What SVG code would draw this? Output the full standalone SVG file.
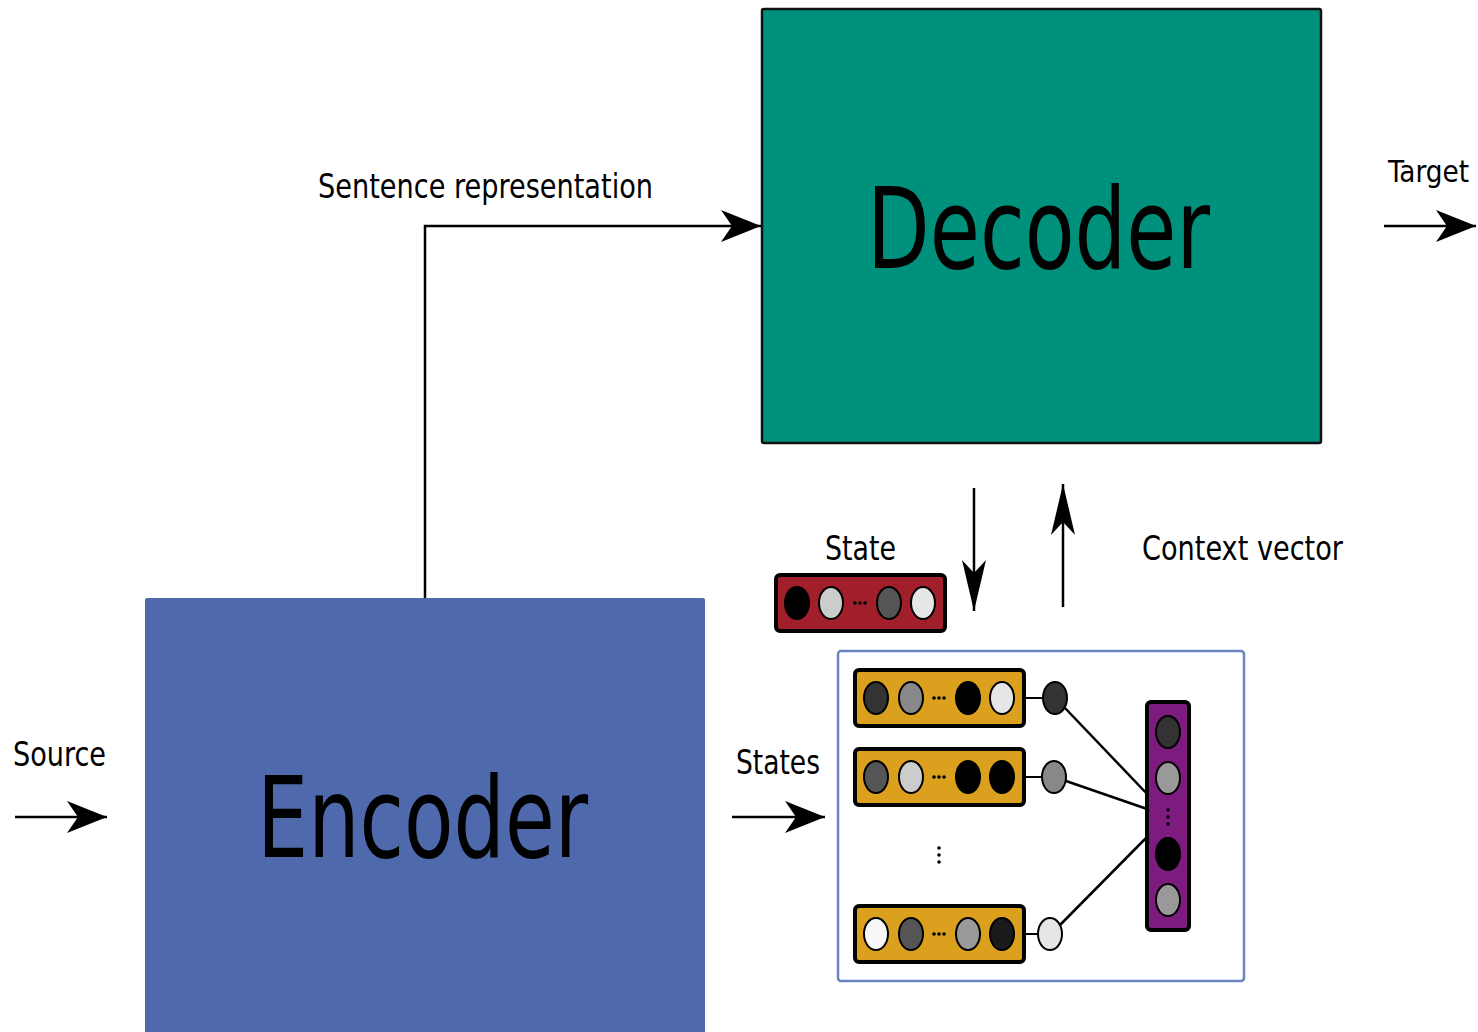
<svg xmlns="http://www.w3.org/2000/svg" width="1478" height="1032" viewBox="0 0 1478 1032">
<defs>
<style>
.lbl{font-family:"DejaVu Sans Condensed","DejaVu Sans",sans-serif;font-size:34px;fill:#000}
.big{font-family:"DejaVu Sans Condensed","DejaVu Sans",sans-serif;font-size:112px;fill:#000}
.conn{stroke:#000;stroke-width:2.5;fill:none}
.vec{stroke:#000;stroke-width:4}
.c{stroke:#000;stroke-width:2}
.dots{fill:#000}
</style>
<marker id="ah" markerUnits="userSpaceOnUse" viewBox="-42 -17 44 34" refX="0" refY="0" markerWidth="44" markerHeight="34" orient="auto">
<path d="M0,0 L-40,-16 L-29,0 L-40,16 Z" fill="#000"/>
</marker>
<marker id="ahs" markerUnits="userSpaceOnUse" viewBox="-54 -13 56 26" refX="0" refY="0" markerWidth="56" markerHeight="26" orient="auto">
<path d="M0,0 L-51,-12 L-38,0 L-51,12 Z" fill="#000"/>
</marker>
</defs>
<rect width="1478" height="1032" fill="#fff"/>

<g id="decoder">
<rect x="762" y="9" width="559" height="434" rx="2" fill="#00917C" stroke="#111" stroke-width="2.5"/>
<text class="big" x="867" y="268" textLength="343" lengthAdjust="spacingAndGlyphs">Decoder</text>
</g>

<g id="encoder">
<rect x="145" y="598" width="560" height="440" rx="2" fill="#4E6AAD"/>
<text class="big" x="257" y="857" textLength="331" lengthAdjust="spacingAndGlyphs">Encoder</text>
</g>

<g id="connectors">
<path class="conn" d="M425,598 V226 H761" marker-end="url(#ah)"/>
<path class="conn" d="M1384,226 H1476" marker-end="url(#ah)"/>
<path class="conn" d="M15,817 H107" marker-end="url(#ah)"/>
<path class="conn" d="M732,817 H825" marker-end="url(#ah)"/>
<path class="conn" d="M974,488 V611" marker-end="url(#ahs)"/>
<path class="conn" d="M1063,607 V484" marker-end="url(#ahs)"/>
</g>

<g id="labels">
<text class="lbl" x="318" y="198" textLength="335" lengthAdjust="spacingAndGlyphs">Sentence representation</text>
<text class="lbl" x="1388" y="182" textLength="81" lengthAdjust="spacingAndGlyphs" style="font-size:31px">Target</text>
<text class="lbl" x="825" y="560" textLength="71" lengthAdjust="spacingAndGlyphs">State</text>
<text class="lbl" x="1142" y="560" textLength="201" lengthAdjust="spacingAndGlyphs">Context vector</text>
<text class="lbl" x="13" y="766" textLength="93" lengthAdjust="spacingAndGlyphs">Source</text>
<text class="lbl" x="736" y="774" textLength="84" lengthAdjust="spacingAndGlyphs">States</text>
</g>

<g id="state-vector">
<rect class="vec" x="776" y="575" width="169" height="56" rx="4" fill="#A11F2B"/>
<ellipse class="c" cx="797" cy="603" rx="12" ry="16" fill="#000"/>
<ellipse class="c" cx="831" cy="603" rx="12" ry="16" fill="#ccc"/>
<g class="dots"><circle cx="855" cy="603" r="1.8"/><circle cx="860" cy="603" r="1.8"/><circle cx="865" cy="603" r="1.8"/></g>
<ellipse class="c" cx="889" cy="603" rx="12" ry="16" fill="#555"/>
<ellipse class="c" cx="923" cy="603" rx="12" ry="16" fill="#e6e6e6"/>
</g>

<g id="attention">
<rect x="838" y="651" width="406" height="330" rx="3" fill="#fff" stroke="#6A84C3" stroke-width="2.5"/>

<g id="links">
<line class="c" x1="1025" y1="698" x2="1043" y2="698"/>
<line class="c" x1="1025" y1="777" x2="1042" y2="777"/>
<line class="c" x1="1025" y1="934" x2="1038" y2="934"/>
<line x1="1065" y1="708" x2="1150" y2="797" stroke="#000" stroke-width="2.5"/>
<line x1="1066" y1="781" x2="1150" y2="810" stroke="#000" stroke-width="2.5"/>
<line x1="1060" y1="925" x2="1150" y2="834" stroke="#000" stroke-width="2.5"/>
</g>

<g id="h1">
<rect class="vec" x="855" y="670" width="169" height="56" rx="4" fill="#DAA01E"/>
<ellipse class="c" cx="876" cy="698" rx="12" ry="16" fill="#333"/>
<ellipse class="c" cx="911" cy="698" rx="12" ry="16" fill="#888"/>
<g class="dots"><circle cx="934" cy="698" r="1.8"/><circle cx="939" cy="698" r="1.8"/><circle cx="944" cy="698" r="1.8"/></g>
<ellipse class="c" cx="968" cy="698" rx="12" ry="16" fill="#000"/>
<ellipse class="c" cx="1002" cy="698" rx="12" ry="16" fill="#e6e6e6"/>
<ellipse class="c" cx="1055" cy="698" rx="12" ry="16" fill="#333"/>
</g>

<g id="h2">
<rect class="vec" x="855" y="749" width="169" height="56" rx="4" fill="#DAA01E"/>
<ellipse class="c" cx="876" cy="777" rx="12" ry="16" fill="#555"/>
<ellipse class="c" cx="911" cy="777" rx="12" ry="16" fill="#ccc"/>
<g class="dots"><circle cx="934" cy="777" r="1.8"/><circle cx="939" cy="777" r="1.8"/><circle cx="944" cy="777" r="1.8"/></g>
<ellipse class="c" cx="968" cy="777" rx="12" ry="16" fill="#000"/>
<ellipse class="c" cx="1002" cy="777" rx="12" ry="16" fill="#000"/>
<ellipse class="c" cx="1054" cy="777" rx="12" ry="16" fill="#888"/>
</g>

<g class="dots"><circle cx="939" cy="848" r="1.8"/><circle cx="939" cy="855" r="1.8"/><circle cx="939" cy="862" r="1.8"/></g>

<g id="hn">
<rect class="vec" x="855" y="906" width="169" height="56" rx="4" fill="#DAA01E"/>
<ellipse class="c" cx="876" cy="934" rx="12" ry="16" fill="#f8f8f8"/>
<ellipse class="c" cx="911" cy="934" rx="12" ry="16" fill="#555"/>
<g class="dots"><circle cx="934" cy="934" r="1.8"/><circle cx="939" cy="934" r="1.8"/><circle cx="944" cy="934" r="1.8"/></g>
<ellipse class="c" cx="968" cy="934" rx="12" ry="16" fill="#999"/>
<ellipse class="c" cx="1002" cy="934" rx="12" ry="16" fill="#1a1a1a"/>
<ellipse class="c" cx="1050" cy="934" rx="12" ry="16" fill="#e6e6e6"/>
</g>

<g id="context">
<rect class="vec" x="1147" y="702" width="42" height="228" rx="4" fill="#7E1B7E"/>
<ellipse class="c" cx="1168" cy="732" rx="12" ry="16" fill="#333"/>
<ellipse class="c" cx="1168" cy="778" rx="12" ry="16" fill="#999"/>
<g class="dots"><circle cx="1168" cy="810" r="1.8"/><circle cx="1168" cy="817" r="1.8"/><circle cx="1168" cy="824" r="1.8"/></g>
<ellipse class="c" cx="1168" cy="854" rx="12" ry="16" fill="#000"/>
<ellipse class="c" cx="1168" cy="900" rx="12" ry="16" fill="#999"/>
</g>
</g>
</svg>
